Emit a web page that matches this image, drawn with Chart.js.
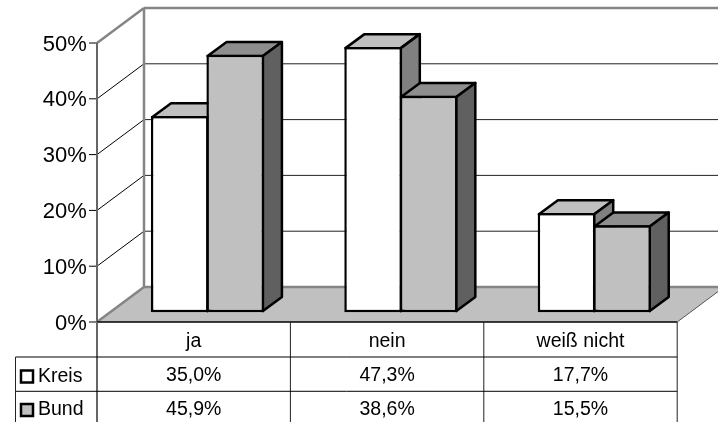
<!DOCTYPE html>
<html lang="de">
<head>
<meta charset="utf-8">
<title>Kreis / Bund</title>
<script src="https://cdn.jsdelivr.net/npm/chart.js@4"></script>
<style>
    html, body { margin: 0; padding: 0; background: #fff; }
    canvas { display: block; }
</style>
</head>
<body>
<canvas id="chart" width="718" height="422"></canvas>
<script>
// Daten
const categories = ['ja', 'nein', 'weiß nicht']
const seriesNames = ['Kreis', 'Bund']
const kreisValues = [35.0, 47.3, 17.7]
const bundValues = [45.9, 38.6, 15.5]
const tickStep = 10
const tickMax = 50

const FONT = '"Liberation Sans", Arial, sans-serif'
const frontColors = ['#ffffff', '#c0c0c0']
const topColors = ['#c0c0c0', '#8e8e8e']
const sideColors = ['#808080', '#606060']

// Tiefe der Saeulen und der Rueckwand
const barDepth = { x: 19, y: -14 }
const wallDepth = { x: 47, y: -35 }
const tableShift = 13.8
const rowLines = [357, 391.3]
const rowText = [376, 409.5]
const tableBottom = 422
const legendLeft = 15.5

function line(ctx, x1, y1, x2, y2, color, width) {
    ctx.strokeStyle = color
    ctx.lineWidth = width
    ctx.beginPath()
    ctx.moveTo(x1, y1)
    ctx.lineTo(x2, y2)
    ctx.stroke()
}

function face(ctx, pts, fill, stroke, width) {
    ctx.beginPath()
    pts.forEach((p, i) => (i ? ctx.lineTo(p[0], p[1]) : ctx.moveTo(p[0], p[1])))
    ctx.closePath()
    ctx.fillStyle = fill
    ctx.fill()
    if (stroke) {
        ctx.strokeStyle = stroke
        ctx.lineWidth = width
        ctx.lineJoin = 'round'
        ctx.stroke()
    }
}

const percentText = (v) => v.toFixed(1).replace('.', ',') + '%'

// Waende, Boden, Gitter
const wallsPlugin = {
    id: 'walls',
    beforeDatasetsDraw(chart) {
        const { ctx, scales } = chart
        const yf = scales.yFront
        const left = scales.x.left - tableShift
        const right = scales.x.right - tableShift
        const y0 = yf.getPixelForValue(0)
        const yTop = yf.getPixelForValue(tickMax)
        const backX = left + wallDepth.x
        const width = chart.width

        ctx.save()
        face(ctx, [
            [left, y0],
            [backX, y0 + wallDepth.y],
            [right + wallDepth.x, y0 + wallDepth.y],
            [right, y0]
        ], '#c0c0c0')
        line(ctx, right, y0, right + wallDepth.x, y0 + wallDepth.y, '#555', 1)

        yf.ticks.forEach((t) => {
            const y = yf.getPixelForValue(t.value)
            line(ctx, left - 8, y, left, y, '#000', 1)
            if (t.value > 0 && t.value < tickMax) {
                line(ctx, left, y, backX, y + wallDepth.y, '#000', 1)
                line(ctx, backX, y + wallDepth.y, width, y + wallDepth.y, '#222', 1)
            }
        })

        const gray = '#858585'
        line(ctx, backX, yTop + wallDepth.y, width, yTop + wallDepth.y, gray, 2.5)
        line(ctx, backX, yTop + wallDepth.y, backX, y0 + wallDepth.y, gray, 2.5)
        line(ctx, backX, y0 + wallDepth.y, width, y0 + wallDepth.y, gray, 2.5)
        line(ctx, left, yTop, backX, yTop + wallDepth.y, gray, 2.5)
        line(ctx, left, y0, backX, y0 + wallDepth.y, gray, 2.5)
        line(ctx, left, yTop, left, y0, '#666', 2)
        ctx.restore()
    },
    // Chart.js zeichnet die Reihen rueckwaerts, hier soll Bund ueber Kreis liegen
    beforeDatasetDraw() {
        return false
    },
    afterDatasetsDraw(chart) {
        const { ctx } = chart
        const dx = barDepth.x
        const dy = barDepth.y
        seriesNames.forEach((name, index) => {
            const meta = chart.getDatasetMeta(index)
            ctx.save()
            meta.data.forEach((bar) => {
                const l = bar.x - bar.width / 2 + 1.2
                const r = bar.x + bar.width / 2 - 1.2
                const t = bar.y + 1.2
                const b = bar.base - 1.2
                face(ctx, [[l, t], [l + dx, t + dy], [r + dx, t + dy], [r, t]],
                    topColors[index], '#000', 2.5)
                face(ctx, [[r, t], [r + dx, t + dy], [r + dx, b + dy], [r, b]],
                    sideColors[index], '#000', 2.5)
            })
            ctx.restore()
            meta.controller.draw()
        })
    }
}

// Datentabelle unter dem Diagramm
const tablePlugin = {
    id: 'dataTable',
    afterDraw(chart) {
        const { ctx, scales } = chart
        const step = scales.x.width / categories.length
        const left = scales.x.left - tableShift
        const right = left + step * categories.length
        const y0 = scales.yFront.getPixelForValue(0)

        ctx.save()
        line(ctx, left, y0, right, y0, '#000', 1.5)
        line(ctx, left, y0, left, tableBottom, '#666', 2)
        for (let i = 1; i <= categories.length; i++) {
            line(ctx, left + step * i, y0, left + step * i, tableBottom, '#222', 1)
        }
        rowLines.forEach((y) => line(ctx, legendLeft, y, right, y, '#000', 1))
        line(ctx, legendLeft, rowLines[0], legendLeft, tableBottom, '#222', 1)

        const rows = [kreisValues, bundValues]
        ctx.font = '19.5px ' + FONT
        ctx.textBaseline = 'middle'
        rows.forEach((values, r) => {
            const y = rowText[r]
            ctx.textAlign = 'center'
            ctx.fillStyle = '#000'
            values.forEach((v, i) => {
                ctx.fillText(percentText(v), left + step * (i + 0.5), y)
            })
            ctx.textAlign = 'left'
            ctx.fillText(seriesNames[r], 38, y + 0.5)
            ctx.fillStyle = frontColors[r]
            ctx.strokeStyle = '#000'
            ctx.lineWidth = 2.5
            ctx.fillRect(21, y - 5.5, 12, 12)
            ctx.strokeRect(21, y - 5.5, 12, 12)
        })
        ctx.restore()
    }
}

new Chart(document.getElementById('chart'), {
    type: 'bar',
    data: {
        labels: categories,
        datasets: [
            {
                label: seriesNames[0],
                data: kreisValues,
                backgroundColor: frontColors[0]
            },
            {
                label: seriesNames[1],
                data: bundValues,
                backgroundColor: frontColors[1]
            }
        ]
    },
    options: {
        responsive: false,
        animation: false,
        devicePixelRatio: 1,
        layout: { padding: { left: 0, right: 27, top: 43, bottom: 0 } },
        datasets: {
            bar: {
                borderColor: '#000',
                borderWidth: 2.5,
                borderSkipped: false,
                categoryPercentage: 0.574,
                barPercentage: 1.04,
                yAxisID: 'y'
            }
        },
        plugins: {
            legend: { display: false },
            tooltip: { enabled: false }
        },
        scales: {
            x: {
                grid: { display: false, drawTicks: false },
                border: { display: false },
                ticks: {
                    labelOffset: -tableShift,
                    padding: 8,
                    color: '#000',
                    maxRotation: 0,
                    font: { family: FONT, size: 19.5 }
                },
                afterFit(scale) {
                    scale.height = 100
                }
            },
            // Ebene der Saeulen
            y: {
                display: false,
                min: -1.73,
                max: 48
            },
            // vordere Achse mit den Beschriftungen
            yFront: {
                position: 'left',
                min: 0,
                max: tickMax,
                grid: { display: false, drawTicks: false },
                border: { display: false },
                ticks: {
                    stepSize: tickStep,
                    padding: 24,
                    labelOffset: 1.5,
                    color: '#000',
                    font: { family: FONT, size: 22 },
                    callback: (v) => v + '%'
                },
                afterFit(scale) {
                    scale.width = 110.8
                }
            }
        }
    },
    plugins: [wallsPlugin, tablePlugin]
})
</script>
</body>
</html>
